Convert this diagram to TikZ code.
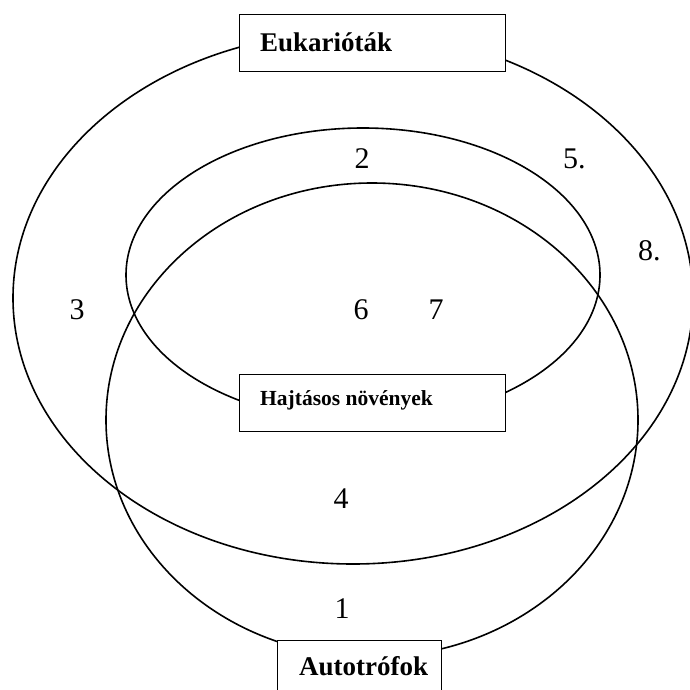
\documentclass[tikz,border=0pt]{standalone}
\usepackage{fontspec}
\setmainfont{Liberation Serif}
\begin{document}
\begin{tikzpicture}[x=1pt,y=-1pt,
  ell/.style={line width=1.6pt},
  boxnode/.style={draw, line width=1.3pt, fill=white, inner sep=0pt, anchor=north west},
  bigtext/.style={font=\bfseries\fontsize{27}{32}\selectfont, inner sep=0pt, anchor=base west},
  smalltext/.style={font=\bfseries\fontsize{21.5}{26}\selectfont, inner sep=0pt, anchor=base west},
  num/.style={font=\fontsize{30}{36}\selectfont, inner sep=0pt, anchor=base}]
\useasboundingbox (0,0) rectangle (690,690);
\clip (0,0) rectangle (690,690);
% ellipses
\draw[ell] (353,298) ellipse [x radius=340pt, y radius=266pt];
\draw[ell] (363,275) ellipse [x radius=237pt, y radius=147pt];
\draw[ell] (372,420) ellipse [x radius=266pt, y radius=237pt];
% boxes
\node[boxnode, minimum width=266pt, minimum height=57pt] (eukbox) at (239,14) {};
\node[bigtext] (euk) at (260,52) {Eukarióták};
\node[boxnode, minimum width=266pt, minimum height=57pt] (hajbox) at (239,374) {};
\node[smalltext] (haj) at (260,405) {Hajtásos növények};
\node[boxnode, minimum width=164pt, minimum height=70pt] (autbox) at (277,640) {};
\node[bigtext] (aut) at (299,675) {Autotrófok};
% numbers
\node[num] (n2) at (362,168) {2};
\node[num, anchor=base west] (n5) at (563,168) {5.};
\node[num, anchor=base west] (n8) at (638,260) {8.};
\node[num] (n3) at (77,319) {3};
\node[num] (n6) at (361,319) {6};
\node[num] (n7) at (436,319) {7};
\node[num] (n4) at (341,508) {4};
\node[num] (n1) at (342,618) {1};
\end{tikzpicture}
\end{document}
